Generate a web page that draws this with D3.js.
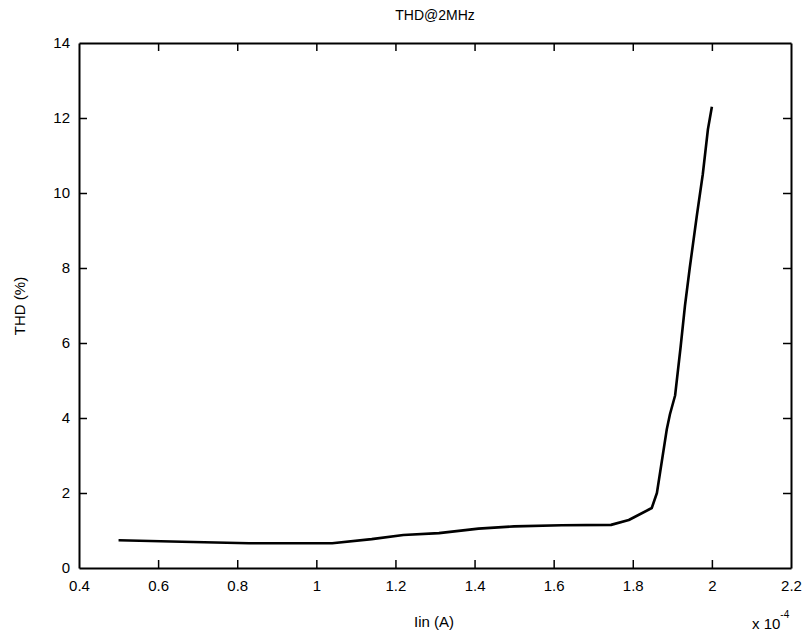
<!DOCTYPE html>
<html>
<head>
<meta charset="utf-8">
<script src="https://cdn.jsdelivr.net/npm/d3@7/dist/d3.min.js"></script>
<style>
  html, body { margin: 0; padding: 0; background: #fff; }
  svg { display: block; }
  text { font-family: "Liberation Sans", Arial, sans-serif; fill: #000; }
</style>
</head>
<body>
<svg id="chart" width="810" height="637"></svg>
<script>
// Input current, in units of 1e-4 A
const iin = [0.5, 0.66, 0.83, 1.04, 1.14, 1.22, 1.31, 1.41, 1.5, 1.62, 1.745, 1.79, 1.848, 1.861, 1.886, 1.894, 1.907, 1.921, 1.932, 1.944, 1.962, 1.977, 1.99, 2.0];
// Total harmonic distortion at 2 MHz, percent
const thd = [0.74, 0.70, 0.66, 0.66, 0.77, 0.88, 0.93, 1.05, 1.11, 1.14, 1.15, 1.28, 1.6, 2.0, 3.7, 4.1, 4.6, 5.9, 7.0, 8.0, 9.4, 10.5, 11.7, 12.3];

const xTicks = [0.4, 0.6, 0.8, 1.0, 1.2, 1.4, 1.6, 1.8, 2.0, 2.2];
const yTicks = [0, 2, 4, 6, 8, 10, 12, 14];

const titleText = "THD@2MHz";
const xLabel = "Iin (A)";
const yLabel = "THD (%)";

const svg = d3.select("#chart");
const m = { left: 79, right: 791, top: 43, bottom: 568 };

const x = d3.scaleLinear().domain([0.4, 2.2]).range([m.left, m.right]);
const y = d3.scaleLinear().domain([0, 14]).range([m.bottom, m.top]);

const fmt = d => (d === 1 || d === 2) ? String(d) : String(+d.toFixed(1));
const tickLen = 8;
const fs = 15;

// Bottom and top axes, ticks pointing inward
const gx = svg.append("g").attr("transform", `translate(0,${m.bottom})`)
  .call(d3.axisBottom(x).tickValues(xTicks).tickFormat(fmt).tickSizeInner(-tickLen).tickSizeOuter(0).tickPadding(12));
const gxt = svg.append("g").attr("transform", `translate(0,${m.top})`)
  .call(d3.axisTop(x).tickValues(xTicks).tickFormat("").tickSizeInner(-tickLen).tickSizeOuter(0));
// Left and right axes
const gy = svg.append("g").attr("transform", `translate(${m.left},0)`)
  .call(d3.axisLeft(y).tickValues(yTicks).tickFormat(d3.format("d")).tickSizeInner(-tickLen).tickSizeOuter(0).tickPadding(9));
const gyr = svg.append("g").attr("transform", `translate(${m.right},0)`)
  .call(d3.axisRight(y).tickValues(yTicks).tickFormat("").tickSizeInner(-tickLen).tickSizeOuter(0));

[gx, gxt, gy, gyr].forEach(g => {
  g.select(".domain").attr("stroke", "#000").attr("stroke-width", 2);
  g.selectAll(".tick line").attr("stroke", "#000").attr("stroke-width", 1.5);
  g.selectAll(".tick text").attr("font-size", fs).attr("font-family", "Liberation Sans, Arial, sans-serif").attr("fill", "#000");
});
// Hide the ticks that sit on the box corners
[gx, gxt].forEach(g => g.selectAll(".tick").filter(d => d === 0.4 || d === 2.2).select("line").remove());
[gy, gyr].forEach(g => g.selectAll(".tick").filter(d => d === 0 || d === 14).select("line").remove());

// Data line
const line = d3.line().x((d, i) => x(iin[i])).y((d, i) => y(thd[i]));
svg.append("path")
  .datum(thd)
  .attr("d", line)
  .attr("fill", "none")
  .attr("stroke", "#000")
  .attr("stroke-width", 2.6)
  .attr("stroke-linejoin", "round");

// Title and axis labels
svg.append("text").attr("x", 435).attr("y", 20).attr("text-anchor", "middle")
  .attr("font-size", fs - 1).text(titleText);
svg.append("text").attr("x", 434).attr("y", 627).attr("text-anchor", "middle")
  .attr("font-size", fs).text(xLabel);
svg.append("text").attr("transform", "translate(25,306) rotate(-90)").attr("text-anchor", "middle")
  .attr("font-size", fs).text(yLabel);

// Exponent note for the x axis
const ex = svg.append("text").attr("x", 752).attr("y", 629).attr("font-size", fs);
ex.append("tspan").text("x 10");
ex.append("tspan").attr("dy", -11).attr("font-size", 10).text("-4");
</script>
</body>
</html>
